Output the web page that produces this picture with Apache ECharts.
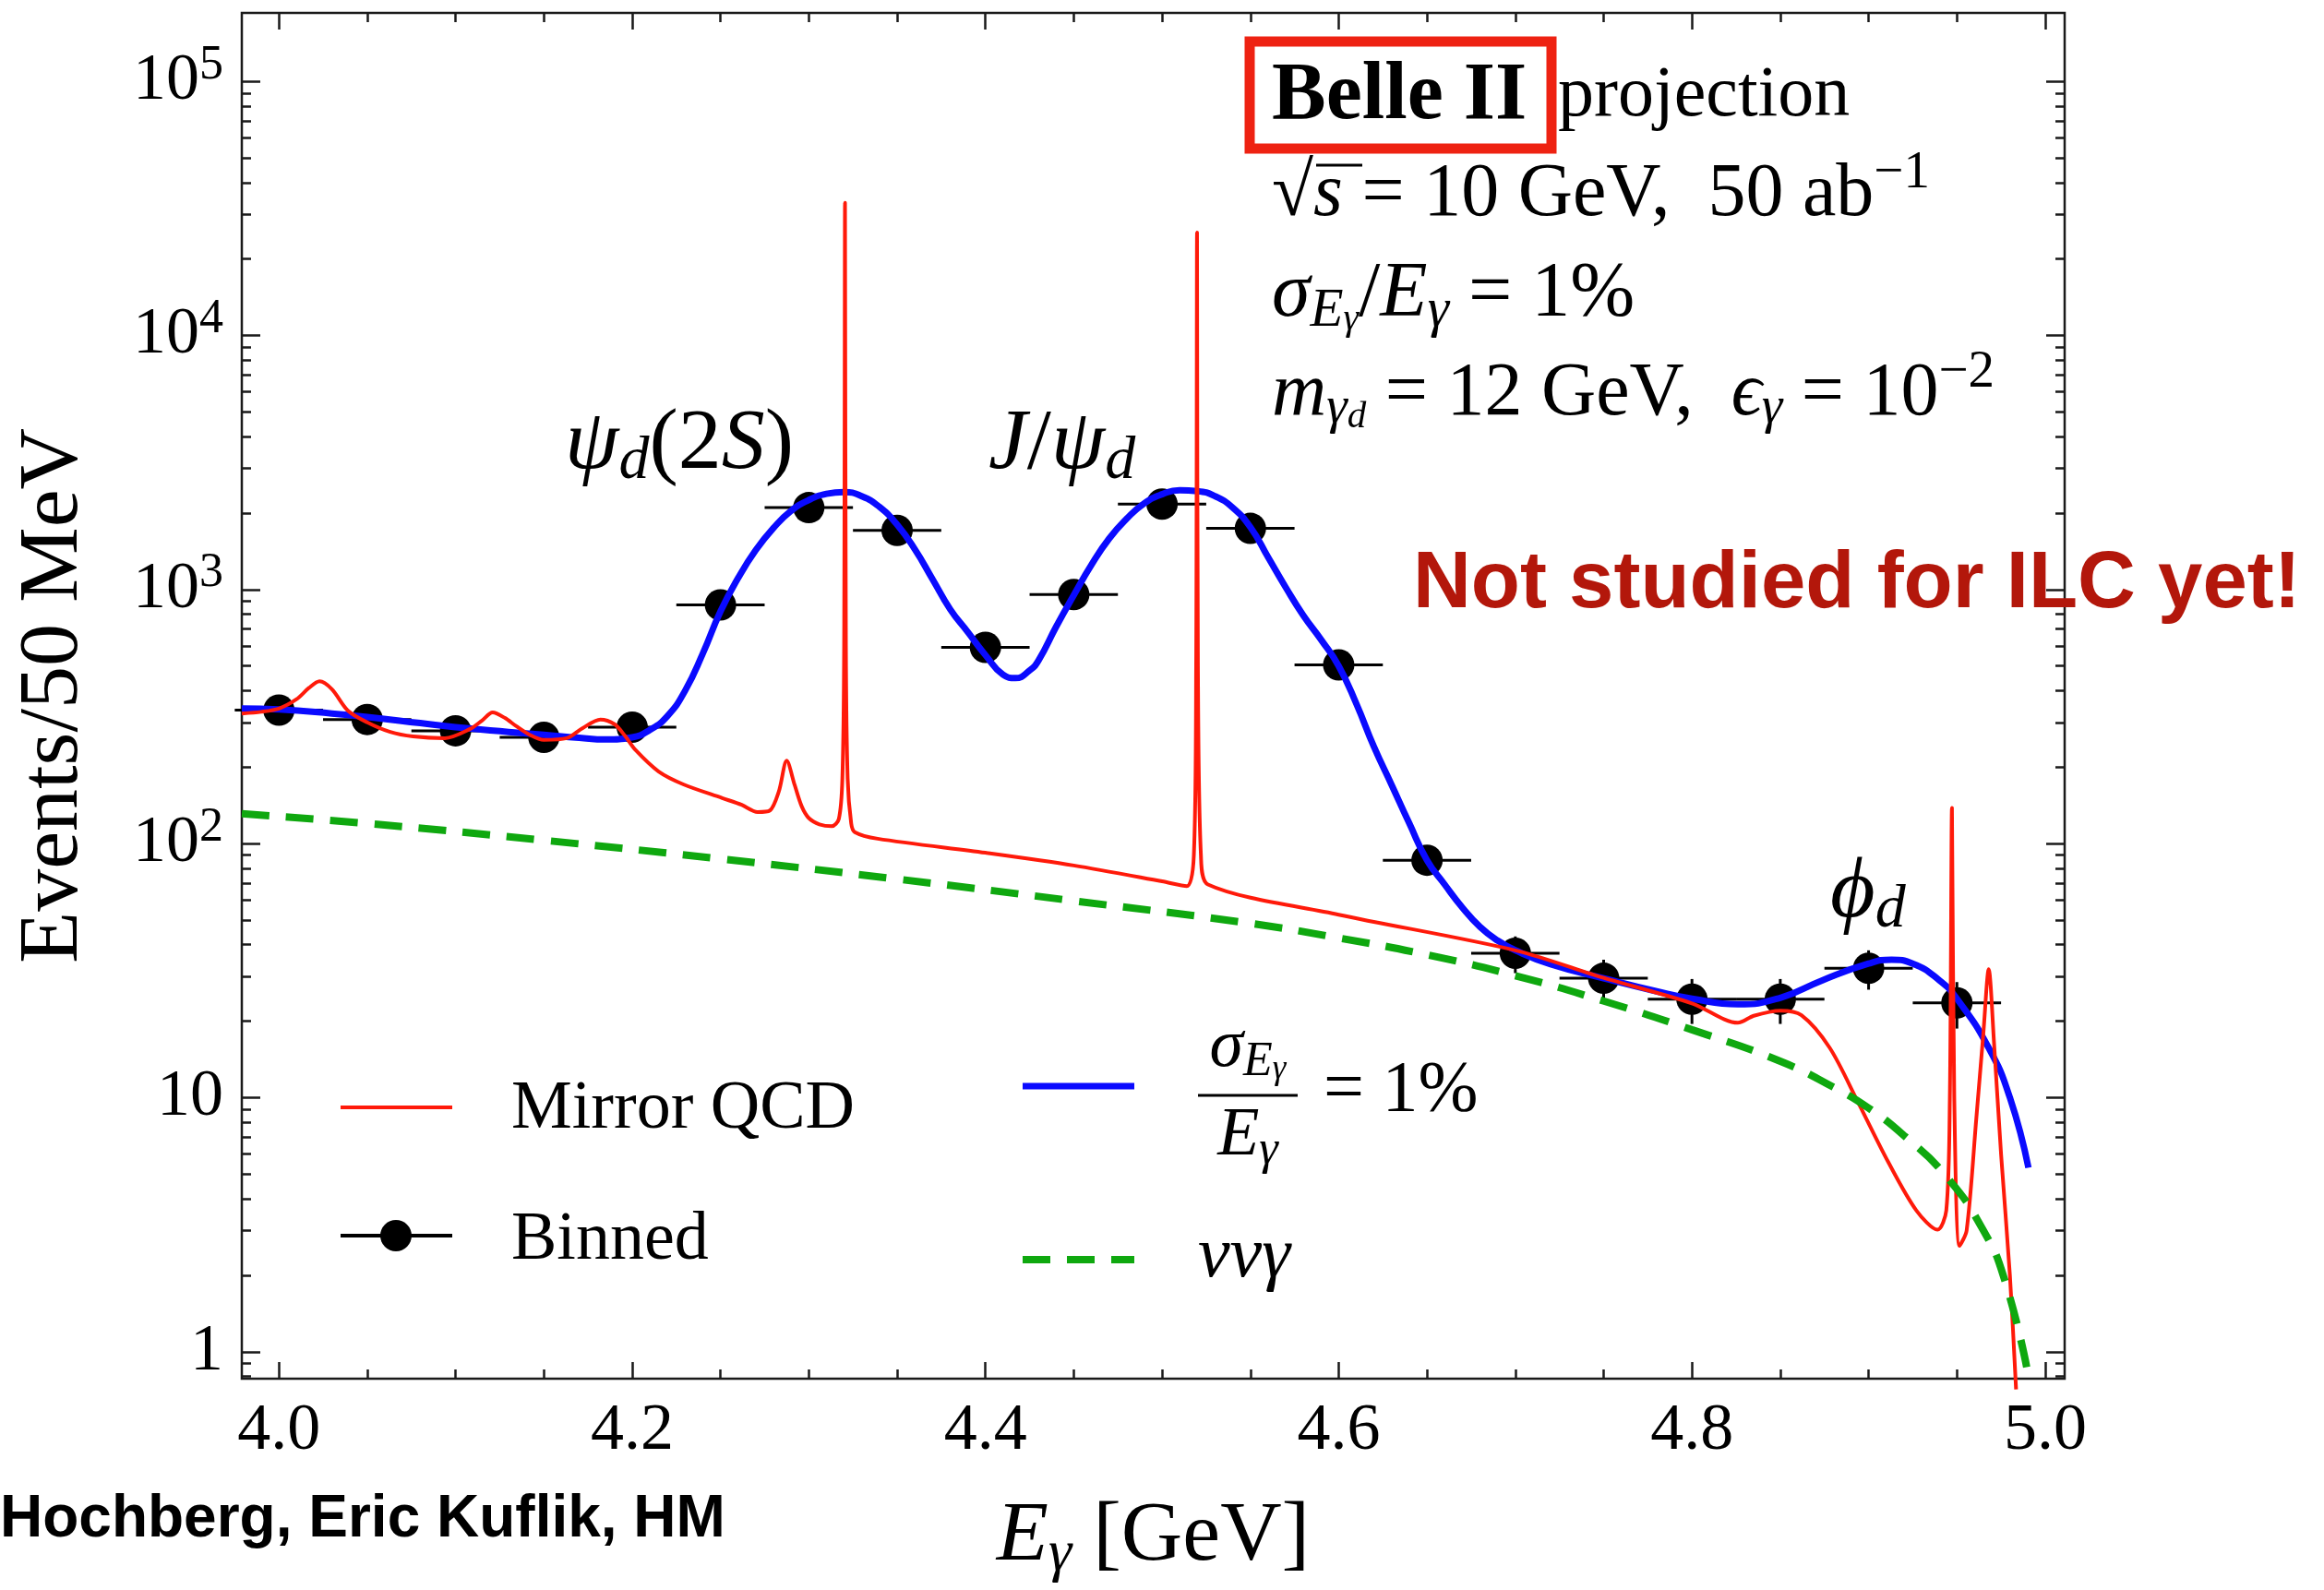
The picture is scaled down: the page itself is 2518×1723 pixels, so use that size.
<!DOCTYPE html>
<html>
<head>
<meta charset="utf-8">
<script src="https://cdn.jsdelivr.net/npm/echarts@6/dist/echarts.min.js"></script>
<style>
  html, body { margin: 0; padding: 0; background: #ffffff; }
  #chart { width: 2518px; height: 1723px; }
</style>
</head>
<body>
<div id="chart"></div>
<script>
// ---- photon energy spectrum: smeared signal (sigma_E/E = 1%) ----
const smearE = [3.979,4.00,4.03,4.05,4.08,4.10,4.13,4.15,4.17,4.185,4.20,4.21,4.22,4.23,4.24,4.25,4.26,4.27,4.28,4.29,4.30,4.31,4.32,4.33,4.34,4.35,4.36,4.37,4.38,4.39,4.40,4.41,4.417,4.425,4.43,4.44,4.45,4.46,4.47,4.48,4.49,4.50,4.51,4.52,4.53,4.54,4.55,4.56,4.57,4.58,4.59,4.60,4.61,4.62,4.63,4.64,4.65,4.66,4.67,4.68,4.69,4.70,4.72,4.75,4.78,4.80,4.826,4.85,4.874,4.90,4.913,4.925,4.94,4.95,4.968,4.98,4.9905];
const smearN = [340,337,325,315,298,287,275,268,261,257,262,280,318,400,560,820,1110,1430,1746,2040,2250,2380,2420,2330,2115,1800,1441,1100,837,680,552,462,448,480,525,713,950,1250,1585,1900,2187,2370,2460,2440,2330,2100,1760,1340,1020,790,635,500,355,240,170,120,86,69,56,47,41.5,38,33.5,29.5,26.2,24.5,23.3,24.7,29,33.7,34.9,33.7,29,24.5,15.7,10,5.3];

// ---- unsmeared mirror-QCD spectrum ----
const mirrorE = [3.979,3.99,4.00,4.01,4.017,4.023,4.03,4.039,4.05,4.063,4.076,4.094,4.108,4.115,4.121,4.128,4.134,4.142,4.15,4.163,4.172,4.182,4.19,4.196,4.202,4.215,4.229,4.251,4.262,4.271,4.278,4.283,4.2875,4.292,4.296,4.300,4.306,4.313,4.317,4.319,4.3200,4.3205,4.3210,4.322,4.324,4.326,4.339,4.40,4.45,4.50,4.514,4.518,4.5193,4.5198,4.5203,4.522,4.526,4.60,4.70,4.75,4.80,4.826,4.835,4.85,4.862,4.878,4.894,4.911,4.927,4.939,4.944,4.946,4.9472,4.9485,4.9515,4.9555,4.961,4.965,4.968,4.971,4.975,4.980,4.9835];
const mirrorN = [325,330,340,370,410,435,405,334,300,275,264,260,282,305,328,312,291,268,256,260,285,308,295,265,233,192,171,151,142,133,135,160,212,170,140,126,119,117,125,180,600,33300,600,180,120,111,104.5,92,82,71,68,90,500,25400,500,90,69,52.5,38,29.6,23.5,19.7,21,22,21.1,15.7,9.6,5.6,3.6,3.02,3.6,10,138,10,2.61,3.0,8.3,18,32,16.5,6,2.0,0.71];

// ---- nu nu gamma background ----
const nunuE = [3.979,4.05,4.15,4.25,4.35,4.45,4.55,4.60,4.65,4.70,4.75,4.80,4.85,4.88,4.90,4.92,4.944,4.965,4.977,4.9895];
const nunuN = [131,120,103,87,72.5,59.5,48.5,42.5,36.5,30.2,24,18.5,13.9,11.0,9.1,7.1,4.9,3.0,1.92,0.87];

// ---- binned events (50 MeV bins) ----
const binE = [4.00,4.05,4.10,4.15,4.20,4.25,4.30,4.35,4.40,4.45,4.50,4.55,4.60,4.65,4.70,4.75,4.80,4.85,4.90,4.95];
const binN = [335,308,278,262,287,870,2100,1710,592,955,2170,1740,505,86,37,29.5,24.4,24.4,32.3,23.6];
const binErr = [18,18,17,16,17,29,46,41,24,31,47,42,22,9.3,6.1,5.4,4.9,4.9,5.7,4.9];
const binHalfWidth = 0.025;

// ---- axis ticks ----
const xMajorTicks = [4.0,4.2,4.4,4.6,4.8,5.0];
const xMinorTicks = [4.05,4.1,4.15,4.25,4.3,4.35,4.45,4.5,4.55,4.65,4.7,4.75,4.85,4.9,4.95];
const yMajorTicks = [1,10,100,1000,10000,100000];
const yMinorTicks = [0.8,0.9,2,3,4,5,6,7,8,9,20,30,40,50,60,70,80,90,200,300,400,500,600,700,800,900,2000,3000,4000,5000,6000,7000,8000,9000,20000,30000,40000,50000,60000,70000,80000,90000];

const X_MIN = 3.979, X_MAX = 5.011, Y_MIN = 0.783, Y_MAX = 186000;

const SERIF = '"Liberation Serif", "DejaVu Serif", serif';
const SANS = '"Liberation Sans", Arial, sans-serif';
const INK = '#1a1a1a';
const RED = '#ff1a0a', BLUE = '#0a0aff', GREEN = '#0fa80f';

// rich-text styles for inline math: roman, italic, sub, sub-sub, sup
function mathRich(F) {
  const tok = (size, extra) => Object.assign({
    fontFamily: SERIF, fontSize: size, lineHeight: size,
    color: '#000', fill: '#000', verticalAlign: 'middle'
  }, extra || {});
  const s1 = Math.round(F * 0.7), s2 = Math.round(F * 0.5);
  return {
    r: tok(F),
    i: tok(F, { fontStyle: 'italic' }),
    b: tok(F, { fontWeight: 'bold' }),
    sub: tok(s1, { fontStyle: 'italic', padding: [Math.round(F * 0.4), 0, 0, 0] }),
    sub2: tok(s2, { fontStyle: 'italic', padding: [Math.round(F * 0.62), 0, 0, 0] }),
    sup: tok(s1, { padding: [0, 0, Math.round(F * 0.56), 0] })
  };
}

function textEl(x, y, text, F, extra) {
  return {
    type: 'text', x: x, y: y, z: 10,
    style: Object.assign({
      text: text, fontSize: F, fontFamily: SERIF, fill: '#000',
      align: 'left', verticalAlign: 'middle',
      textAlign: 'left', textVerticalAlign: 'middle',
      rich: mathRich(F)
    }, extra || {})
  };
}
function lineEl(x1, y1, x2, y2, color, w, dash) {
  return {
    type: 'line', z: 10,
    shape: { x1: x1, y1: y1, x2: x2, y2: y2 },
    style: { stroke: color, lineWidth: w, lineDash: dash || null }
  };
}

const gridRect = { left: 262, top: 14, width: 1975, height: 1480 };

function xAxisDef(grid, pos, ticks, len, withLabels) {
  const ax = {
    type: 'value', gridIndex: grid, position: pos, min: X_MIN, max: X_MAX,
    axisLine: { show: false },
    splitLine: { show: false },
    axisTick: { show: true, inside: true, length: len, customValues: ticks,
                lineStyle: { color: INK, width: 2.5 } },
    axisLabel: { show: false }
  };
  if (withLabels) {
    ax.axisLabel = {
      show: true, customValues: ticks, margin: 21,
      fontSize: 72, fontFamily: SERIF, color: '#000',
      formatter: v => Number(v).toFixed(1)
    };
    ax.name = '{i|E}{sub|γ}{r| [GeV]}';
    ax.nameLocation = 'middle';
    ax.nameGap = 126;
    ax.nameTextStyle = { fontSize: 92, fontFamily: SERIF, color: '#000', rich: mathRich(92) };
  }
  return ax;
}
function yAxisDef(grid, pos, ticks, len, withLabels) {
  const ax = {
    type: 'log', logBase: 10, gridIndex: grid, position: pos, min: Y_MIN, max: Y_MAX,
    axisLine: { show: false },
    splitLine: { show: false },
    minorTick: { show: false },
    axisTick: { show: true, inside: true, length: len, customValues: ticks,
                lineStyle: { color: INK, width: 2.5 } },
    axisLabel: { show: false }
  };
  if (withLabels) {
    ax.axisLabel = {
      show: true, customValues: ticks, margin: 20,
      fontSize: 72, lineHeight: 72, fontFamily: SERIF, color: '#000',
      formatter: v => {
        const e = Math.round(Math.log10(v));
        if (e === 0) return '1';
        if (e === 1) return '10';
        return '10{sup|' + e + '}';
      },
      rich: {
        sup: { fontSize: 52, lineHeight: 52, fontFamily: SERIF, color: '#000',
               verticalAlign: 'middle', padding: [0, 0, 34, 0] }
      }
    };
    ax.name = 'Events/50 MeV';
    ax.nameLocation = 'middle';
    ax.nameGap = 157;
    ax.nameTextStyle = { fontSize: 92, fontFamily: SERIF, color: '#000' };
  }
  return ax;
}

const zip = (a, b) => a.map((v, i) => [v, b[i]]);

const chart = echarts.init(document.getElementById('chart'), null, { renderer: 'canvas' });

chart.setOption({
  animation: false,
  backgroundColor: '#ffffff',
  grid: [
    Object.assign({ show: true, borderColor: INK, borderWidth: 2.5, backgroundColor: 'transparent', containLabel: false }, gridRect),
    Object.assign({ show: false, containLabel: false }, gridRect)
  ],
  xAxis: [
    xAxisDef(0, 'bottom', xMajorTicks, 18, true),
    xAxisDef(0, 'top', xMajorTicks, 18, false),
    xAxisDef(1, 'bottom', xMinorTicks, 10, false),
    xAxisDef(1, 'top', xMinorTicks, 10, false)
  ],
  yAxis: [
    yAxisDef(0, 'left', yMajorTicks, 20, true),
    yAxisDef(0, 'right', yMajorTicks, 20, false),
    yAxisDef(1, 'left', yMinorTicks, 10, false),
    yAxisDef(1, 'right', yMinorTicks, 10, false)
  ],
  series: [
    {
      name: 'Binned errors',
      type: 'custom',
      xAxisIndex: 0, yAxisIndex: 0,
      z: 2,
      encode: { x: 0, y: 1 },
      data: binE.map((e, i) => [e, binN[i], binErr[i]]),
      renderItem: (params, api) => {
        const x = api.value(0), y = api.value(1), ey = api.value(2);
        const l = api.coord([x - binHalfWidth, y]);
        const r = api.coord([x + binHalfWidth, y]);
        const t = api.coord([x, y + ey]);
        const b = api.coord([x, y - ey]);
        const st = { stroke: '#000', lineWidth: 3 };
        return {
          type: 'group',
          children: [
            { type: 'line', shape: { x1: l[0], y1: l[1], x2: r[0], y2: r[1] }, style: st },
            { type: 'line', shape: { x1: t[0], y1: t[1], x2: b[0], y2: b[1] }, style: st }
          ]
        };
      }
    },
    {
      name: 'Binned',
      type: 'scatter',
      xAxisIndex: 0, yAxisIndex: 0,
      z: 2,
      symbol: 'circle',
      symbolSize: 34,
      itemStyle: { color: '#000', opacity: 1 },
      data: zip(binE, binN)
    },
    {
      name: 'sigma_E/E = 1%',
      type: 'line',
      xAxisIndex: 0, yAxisIndex: 0,
      z: 3,
      showSymbol: false, symbol: 'none',
      smooth: 0.5,
      lineStyle: { color: BLUE, width: 7, join: 'round' },
      data: zip(smearE, smearN)
    },
    {
      name: 'Mirror QCD',
      type: 'line',
      xAxisIndex: 0, yAxisIndex: 0,
      z: 4,
      clip: false,
      showSymbol: false, symbol: 'none',
      smooth: 0.3,
      lineStyle: { color: RED, width: 4, join: 'round' },
      data: zip(mirrorE, mirrorN)
    },
    {
      name: 'nu nu gamma',
      type: 'line',
      xAxisIndex: 0, yAxisIndex: 0,
      z: 5,
      showSymbol: false, symbol: 'none',
      smooth: 0.5,
      lineStyle: { color: GREEN, width: 8, type: [30, 18] },
      data: zip(nunuE, nunuN)
    }
  ],
  graphic: [
    // peak labels
    textEl(612, 482, '{i|ψ}{sub|d}{r|(2}{i|S}{r|)}', 94),
    textEl(1071, 482, '{i|J}{r|/}{i|ψ}{sub|d}', 94),
    textEl(1983, 968, '{i|ϕ}{sub|d}', 94),

    // experiment / parameter block
    { type: 'rect', z: 10, shape: { x: 1354, y: 45, width: 327, height: 116 },
      style: { fill: 'none', stroke: '#ee2212', lineWidth: 11 } },
    textEl(1378, 105, 'Belle II', 88, { fontWeight: 'bold' }),
    textEl(1688, 105, 'projection', 78),
    textEl(1378, 211, '{r|√}{i|s}{r| = 10 GeV,  50 ab}{sup|−1}', 82),
    lineEl(1426, 179, 1476, 179, '#000', 3),
    textEl(1378, 320, '{i|σ}{sub|E}{sub2|γ}{r|/}{i|E}{sub|γ}{r| = 1%}', 84),
    textEl(1378, 427, '{i|m}{sub|γ}{sub2|d}{r| = 12 GeV,  }{i|ϵ}{sub|γ}{r| = 10}{sup|−2}', 82),

    // legend
    lineEl(369, 1200, 490, 1200, RED, 4),
    textEl(554, 1203, 'Mirror QCD', 74),
    lineEl(369, 1339, 490, 1339, '#000', 4),
    { type: 'circle', z: 10, shape: { cx: 429, cy: 1339, r: 17 }, style: { fill: '#000' } },
    textEl(554, 1345, 'Binned', 74),
    lineEl(1108, 1177, 1229, 1177, BLUE, 7),
    textEl(1352, 1136, '{i|σ}{sub|E}{sub2|γ}', 74, { align: 'center', textAlign: 'center' }),
    lineEl(1298, 1187, 1406, 1187, '#000', 3),
    textEl(1352, 1232, '{i|E}{sub|γ}', 74, { align: 'center', textAlign: 'center' }),
    textEl(1434, 1183, '= 1%', 78),
    lineEl(1108, 1365, 1229, 1365, GREEN, 8, [30, 18]),
    textEl(1298, 1362, '{i|ννγ}', 78),

    // notes
    { type: 'text', x: 1531, y: 634, z: 20,
      style: { text: 'Not studied for ILC yet!', fontSize: 87, fontWeight: 'bold', fontFamily: SANS,
               fill: '#b3170b', align: 'left', verticalAlign: 'middle', textAlign: 'left', textVerticalAlign: 'middle' } },
    { type: 'text', x: 0, y: 1647, z: 20,
      style: { text: 'Hochberg, Eric Kuflik, HM', fontSize: 64, fontWeight: 'bold', fontFamily: SANS,
               fill: '#000', align: 'left', verticalAlign: 'middle', textAlign: 'left', textVerticalAlign: 'middle' } }
  ]
});
</script>
</body>
</html>
